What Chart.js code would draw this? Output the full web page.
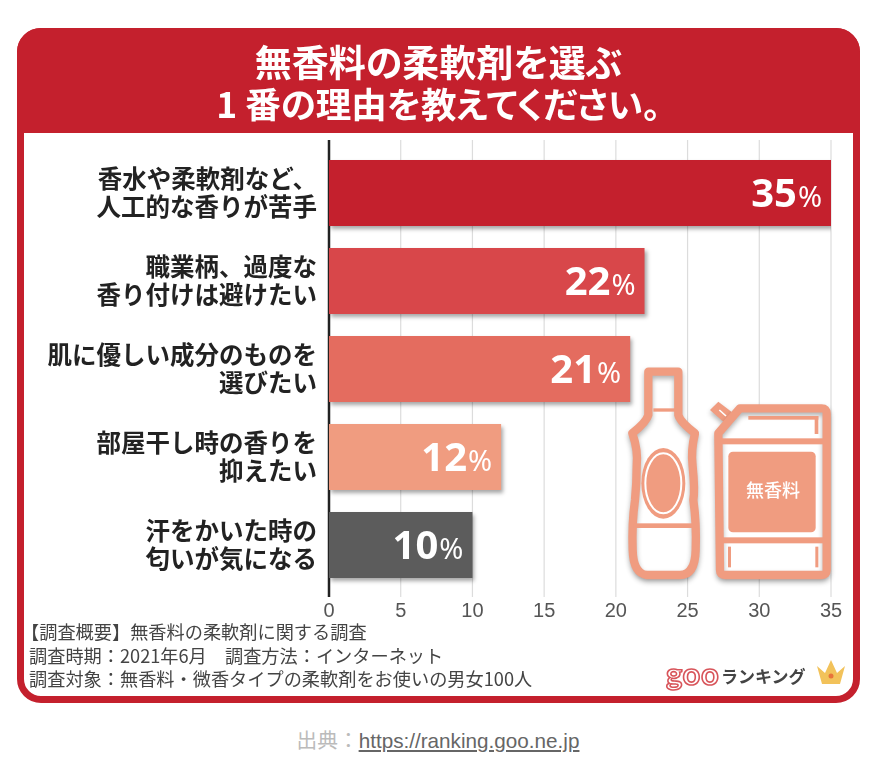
<!DOCTYPE html>
<html lang="ja">
<head>
<meta charset="utf-8">
<title>無香料の柔軟剤を選ぶ1番の理由</title>
<script src="https://cdn.jsdelivr.net/npm/chart.js@4/dist/chart.umd.min.js"></script>
<style>
html,body{margin:0;padding:0;background:#fff;width:892px;height:766px;overflow:hidden;font-family:"Noto Sans CJK JP",sans-serif}
#art{position:absolute;left:0;top:0;width:892px;height:720px;filter:blur(.55px)}
#frame{position:absolute;left:17px;top:28px;width:829px;height:661px;border:7px solid #c4202d;border-radius:24px;background:#fff}
#head{position:absolute;left:17px;top:28px;width:843px;height:105px;background:#c4202d;border-radius:24px 24px 0 0;color:#fff;font-weight:700;text-align:center;font-feature-settings:"palt"}
#head div{line-height:41px;font-size:35.5px}
#head div:first-child{padding-top:13px;font-size:37px}
#notes{position:absolute;left:29px;top:620px;font-size:18.2px;line-height:23.5px;color:#444;white-space:pre}
#notes span{position:relative;left:-8px}
#goo{position:absolute;left:666px;top:654px;font:700 31px "Lato";letter-spacing:.5px;color:#fff;-webkit-text-stroke:1.6px #d8545a}
#rank{position:absolute;left:721px;top:663px;font-weight:700;font-size:17px;line-height:26px;color:#444}
canvas{position:absolute;left:0;top:0}
#source{position:absolute;left:0;top:724px;width:876px;text-align:center;font:20.7px "Liberation Sans","Noto Sans CJK JP";color:#bbb}
#source a{color:#666;text-decoration:underline}
</style>
</head>
<body>
<div id="art">
<div id="frame"></div>
<div id="head"><div>無香料の柔軟剤を選ぶ</div><div>1 番の理由を教えてください。</div></div>
<canvas id="chart" width="892" height="720"></canvas>
<div id="notes"><span>【調査概要】無香料の柔軟剤に関する調査</span>
調査時期：2021年6月　調査方法：インターネット
調査対象：無香料・微香タイプの柔軟剤をお使いの男女100人</div>
<div id="goo">goo</div>
<div id="rank">ランキング</div>
</div>
<div id="source">出典：<a href="https://ranking.goo.ne.jp">https://ranking.goo.ne.jp</a></div>

<script>
const categories = [
["香水や柔軟剤など、","人工的な香りが苦手"],
["職業柄、過度な","香り付けは避けたい"],
["肌に優しい成分のものを","選びたい"],
["部屋干し時の香りを","抑えたい"],
["汗をかいた時の","匂いが気になる"]
]
const values = [35,22,21,12,10]
const barColors = ["#c4202d","#d8474a","#e46c5f","#f09c80","#5c5c5c"]
const axisMax = 35
const axisStep = 5

// grid lines run past the plot area, so they are drawn here from the x scale
const gridPlugin = {
id:"gridLines",
beforeDatasetsDraw(chart){
const ctx = chart.ctx
const x = chart.scales.x
ctx.save()
x.ticks.forEach(t => {
const px = x.getPixelForValue(t.value)
ctx.strokeStyle = t.value === 0 ? "#222" : "#dcdcdc"
ctx.lineWidth = t.value === 0 ? 2.5 : 1.2
ctx.beginPath()
ctx.moveTo(px,140)
ctx.lineTo(px,597)
ctx.stroke()
})
ctx.restore()
}
}

// soft shadow under the bars
const shadowPlugin = {
id:"barShadow",
beforeDatasetDraw(chart){
const ctx = chart.ctx
ctx.save()
ctx.shadowColor = "rgba(0,0,0,.35)"
ctx.shadowBlur = 4
ctx.shadowOffsetX = 2
ctx.shadowOffsetY = 3
},
afterDatasetDraw(chart){
chart.ctx.restore()
}
}

// 35% style labels inside the bar end
const valuePlugin = {
id:"valueLabels",
afterDatasetsDraw(chart){
const ctx = chart.ctx
const bars = chart.getDatasetMeta(0).data
ctx.save()
ctx.fillStyle = "#fff"
ctx.textBaseline = "alphabetic"
ctx.textAlign = "right"
bars.forEach((bar,i) => {
const right = bar.x - 9
const base = bar.y + 14
ctx.font = '400 29px "Noto Sans"'
ctx.fillText("%",right,base)
const w = ctx.measureText("%").width
ctx.font = '700 40px "Noto Sans"'
ctx.fillText(String(values[i]),right - w - 1,base)
})
ctx.restore()
}
}

// bottle and refill jug, coordinates taken at 3x around (600,350)
function drawBottle(ctx){
ctx.beginPath()
ctx.moveTo(145,65)
ctx.lineTo(235,65)
ctx.lineTo(235,195)
ctx.quadraticCurveTo(240,215,285,250)
ctx.quadraticCurveTo(272,300,278,350)
ctx.quadraticCurveTo(285,420,280,450)
ctx.quadraticCurveTo(290,520,287,600)
ctx.quadraticCurveTo(285,675,240,675)
ctx.lineTo(140,675)
ctx.quadraticCurveTo(100,670,98,600)
ctx.quadraticCurveTo(95,520,105,450)
ctx.quadraticCurveTo(110,400,110,350)
ctx.quadraticCurveTo(115,300,97,250)
ctx.quadraticCurveTo(140,215,145,195)
ctx.closePath()
ctx.fill()
ctx.stroke()
}

function drawJug(ctx){
ctx.beginPath()
ctx.moveTo(355,250)
ctx.lineTo(420,175)
ctx.lineTo(665,175)
ctx.quadraticCurveTo(680,175,680,190)
ctx.lineTo(680,660)
ctx.quadraticCurveTo(680,675,665,675)
ctx.lineTo(375,675)
ctx.quadraticCurveTo(360,675,360,660)
ctx.closePath()
ctx.fill()
ctx.stroke()
}

const iconPlugin = {
id:"icons",
afterDatasetsDraw(chart){
const ctx = chart.ctx
const line = "#f09c80"
ctx.save()
ctx.translate(600,350)
ctx.scale(1/3,1/3)
ctx.lineJoin = "round"
ctx.strokeStyle = line
ctx.fillStyle = "#fff"
ctx.lineWidth = 25
ctx.shadowColor = "rgba(0,0,0,.3)"
ctx.shadowBlur = 5
ctx.shadowOffsetY = 3
drawBottle(ctx)
// jug cap
ctx.fillStyle = line
ctx.beginPath()
ctx.moveTo(330,180)
ctx.lineTo(355,155)
ctx.lineTo(400,190)
ctx.lineTo(370,215)
ctx.closePath()
ctx.fill()
ctx.fillStyle = "#fff"
drawJug(ctx)
ctx.shadowColor = "transparent"
ctx.fillStyle = line

// bottle details
ctx.fillRect(160,175,65,10)
ctx.fillRect(100,520,180,14)
ctx.beginPath()
ctx.ellipse(190,400,66,106,0,0,Math.PI*2)
ctx.fill()
ctx.strokeStyle = "#fff"
ctx.lineWidth = 6
ctx.beginPath()
ctx.ellipse(190,400,54,90,0,0,Math.PI*2)
ctx.stroke()

// jug details
ctx.fillRect(360,265,310,18)
ctx.fillRect(365,562,305,18)
ctx.fillRect(384,590,9,62)
ctx.fillRect(646,590,9,62)
ctx.fillRect(445,198,210,11)
ctx.fillRect(644,198,11,54)
ctx.beginPath()
ctx.roundRect(385,305,262,242,14)
ctx.fill()
ctx.strokeStyle = "#fff"
ctx.lineWidth = 5
ctx.beginPath()
ctx.moveTo(358,180)
ctx.lineTo(378,198)
ctx.stroke()
ctx.restore()

ctx.save()
ctx.fillStyle = "#fff"
ctx.font = '500 18px "Noto Sans CJK JP"'
ctx.textAlign = "center"
ctx.textBaseline = "middle"
ctx.fillText("無香料",773,490)

// crown next to the goo logo
ctx.fillStyle = "#f2c25a"
ctx.beginPath()
ctx.moveTo(822,684)
ctx.lineTo(817,666)
ctx.lineTo(825,673)
ctx.lineTo(831,660)
ctx.lineTo(837,673)
ctx.lineTo(845,666)
ctx.lineTo(840,684)
ctx.closePath()
ctx.fill()
ctx.fillStyle = "#e8743b"
ctx.beginPath()
ctx.arc(831,676,2.5,0,Math.PI*2)
ctx.fill()
ctx.restore()
}
}

new Chart(document.getElementById("chart"),{
type:"bar",
data:{
labels:categories,
datasets:[{
data:values,
backgroundColor:barColors,
borderWidth:0,
barPercentage:0.75,
categoryPercentage:1
}]
},
plugins:[gridPlugin,shadowPlugin,valuePlugin,iconPlugin],
options:{
indexAxis:"y",
responsive:false,
animation:false,
layout:{padding:{left:0,top:149,right:61,bottom:91}},
plugins:{
legend:{display:false},
tooltip:{enabled:false}
},
scales:{
x:{
min:0,
max:axisMax,
position:"bottom",
grid:{display:false},
border:{display:false},
afterFit(scale){ scale.height = 40 },
ticks:{
stepSize:axisStep,
maxRotation:0,
padding:2,
color:"#555",
font:{family:'"Liberation Sans Narrow","Liberation Sans"',size:20}
}
},
y:{
grid:{display:false},
border:{display:false},
afterFit(scale){ scale.width = 329 },
ticks:{
padding:4,
color:"#222",
font:{family:'"Noto Sans CJK JP"',size:24.5,weight:"700",lineHeight:1.14}
}
}
}
}
})
</script>
</body>
</html>
